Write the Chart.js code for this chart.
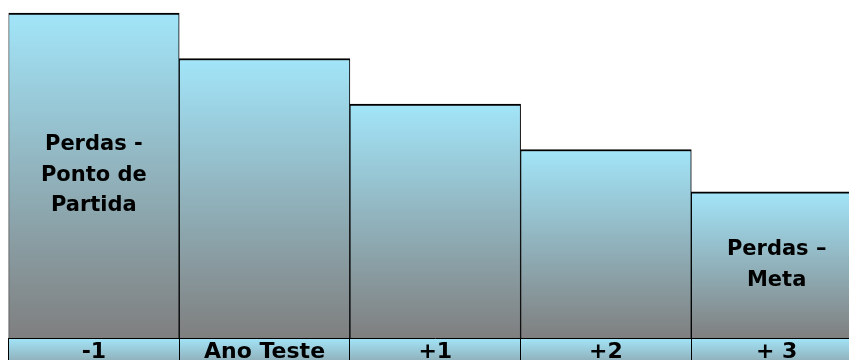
<!DOCTYPE html>
<html>
<head>
<meta charset="utf-8">
<script src="https://cdn.jsdelivr.net/npm/chart.js@4/dist/chart.umd.min.js"></script>
<style>
  html, body { margin: 0; padding: 0; background: #fff; overflow: hidden; }
  #wrap { width: 849px; height: 360px; overflow: hidden; }
  canvas { display: block; }
</style>
</head>
<body>
<div id="wrap"><canvas id="perdasChart" width="864" height="360"></canvas></div>
<script>
// categorias e valores (índice de perdas)
const categorias = ['-1', 'Ano Teste', '+1', '+2', '+ 3'];
const perdas = [100, 86, 72, 58, 45];
const textoBarras = [['Perdas -', 'Ponto de', 'Partida'], null, null, null, ['Perdas \u2013', 'Meta']];

const CIANO = '#a2e5f9';
const CINZA = '#7f7f7f';
const FONTE = '"DejaVu Sans", Arial, sans-serif';

// gradiente vertical por barra
function gradienteBarra(ctx) {
    const chart = ctx.chart;
    if (!chart.chartArea) return CIANO;
    const y = chart.scales.y;
    const topo = y.getPixelForValue(ctx.raw);
    const base = y.getPixelForValue(0);
    const g = chart.ctx.createLinearGradient(0, topo, 0, base);
    g.addColorStop(0, CIANO);
    g.addColorStop(1, CINZA);
    return g;
}

// faixa de fundo sob as barras (rótulos do eixo)
const faixaEixo = {
    id: 'faixaEixo',
    beforeDraw(chart) {
        const { ctx, chartArea } = chart;
        const g = ctx.createLinearGradient(0, chartArea.bottom, 0, chartArea.bottom + 45);
        g.addColorStop(0, CIANO);
        g.addColorStop(1, CINZA);
        ctx.save();
        ctx.fillStyle = g;
        ctx.fillRect(chartArea.left, chartArea.bottom, chart.width - chartArea.left, chart.height - chartArea.bottom);
        ctx.restore();
    }
};

// texto dentro das barras
const textoDentro = {
    id: 'textoDentro',
    afterDatasetsDraw(chart) {
        const { ctx } = chart;
        const meta = chart.getDatasetMeta(0);
        ctx.save();
        ctx.font = 'bold 21px ' + FONTE;
        ctx.fillStyle = '#000';
        ctx.textAlign = 'center';
        ctx.textBaseline = 'middle';
        meta.data.forEach((bar, i) => {
            const linhas = textoBarras[i];
            if (!linhas) return;
            const centro = (bar.y + bar.base) / 2;
            const lh = 30.5;
            linhas.forEach((t, k) => {
                ctx.fillText(t, bar.x, centro + (k - (linhas.length - 1) / 2) * lh);
            });
        });
        ctx.restore();
    }
};

const ctx = document.getElementById('perdasChart').getContext('2d');
new Chart(ctx, {
    type: 'bar',
    data: {
        labels: categorias,
        datasets: [{
            data: perdas,
            backgroundColor: gradienteBarra,
            borderColor: '#000',
            borderWidth: { top: 2, left: 1, right: 1, bottom: 0 },
            borderSkipped: 'bottom',
            barPercentage: 1,
            categoryPercentage: 1
        }]
    },
    options: {
        responsive: false,
        animation: false,
        layout: { padding: { left: 8.5, right: 2, top: 0, bottom: 0 } },
        plugins: { legend: { display: false }, tooltip: { enabled: false } },
        scales: {
            x: {
                grid: {
                    offset: true,
                    drawOnChartArea: false,
                    drawTicks: true,
                    tickLength: 25,
                    color: '#000',
                    lineWidth: 1
                },
                border: { display: true, color: '#000', width: 1 },
                ticks: {
                    color: '#000',
                    padding: -24,
                    maxRotation: 0,
                    autoSkip: false,
                    font: { family: FONTE, size: 22, weight: 'bold' }
                },
                afterFit(s) { s.height = 22; }
            },
            y: {
                display: false,
                min: 0,
                max: 104
            }
        }
    },
    plugins: [faixaEixo, textoDentro]
});
</script>
</body>
</html>
